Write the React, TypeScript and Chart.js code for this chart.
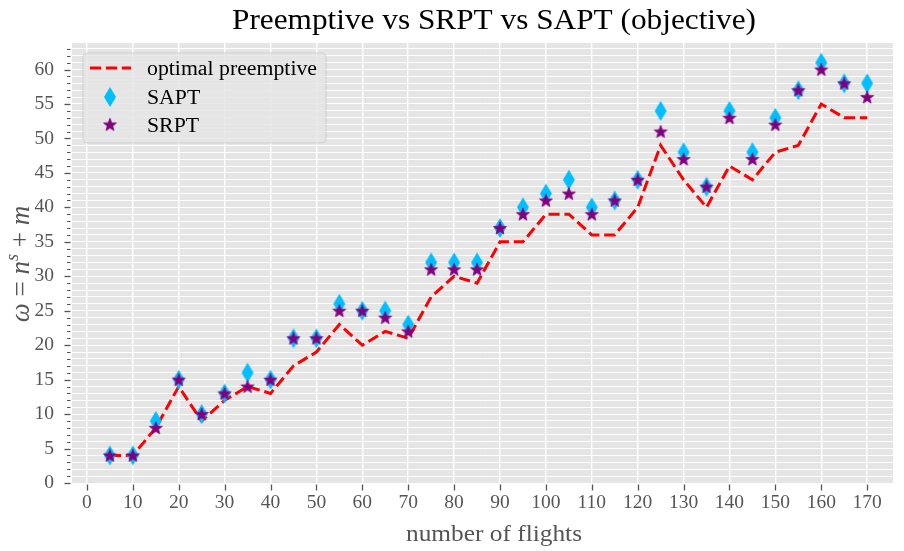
import React, { useEffect, useRef } from "react";
import { Chart, registerables } from "chart.js";

Chart.register(...registerables);

// ---- data ----
const flights = [5, 10, 15, 20, 25, 30, 35, 40, 45, 50, 55, 60, 65, 70, 75, 80, 85, 90, 95, 100, 105, 110, 115, 120, 125, 130, 135, 140, 145, 150, 155, 160, 165, 170];
const optimalPreemptive = [4, 4, 8, 14, 9, 12, 14, 13, 17, 19, 23, 20, 22, 21, 27, 30, 29, 35, 35, 39, 39, 36, 36, 40, 49, 44, 40, 46, 44, 48, 49, 55, 53, 53];
const saptValues = [4, 4, 9, 15, 10, 13, 16, 15, 21, 21, 26, 25, 25, 23, 32, 32, 32, 37, 40, 42, 44, 40, 41, 44, 54, 48, 43, 54, 48, 53, 57, 61, 58, 58];
const srptValues = [4, 4, 8, 15, 10, 13, 14, 15, 21, 21, 25, 25, 24, 22, 31, 31, 31, 37, 39, 41, 42, 39, 41, 44, 51, 47, 43, 53, 47, 52, 57, 60, 58, 56];

const xTickValues = [0, 10, 20, 30, 40, 50, 60, 70, 80, 90, 100, 110, 120, 130, 140, 150, 160, 170];
const yMajorTicks = [0, 5, 10, 15, 20, 25, 30, 35, 40, 45, 50, 55, 60];
const yMinorMax = 63;

const titleText = "Preemptive vs SRPT vs SAPT (objective)";
const xLabelText = "number of flights";
const legendLabels = ["optimal preemptive", "SAPT", "SRPT"];

const FONT = '"Liberation Serif", "Times New Roman", serif';
const RED = "#FF0000";
const BLUE = "#00BFFF";
const PURPLE = "#800080";
const TICK_GRAY = "#555555";

function makeDiamond(): HTMLCanvasElement {
  const c = document.createElement("canvas");
  c.width = 14;
  c.height = 22;
  const g = c.getContext("2d")!;
  g.beginPath();
  g.moveTo(7, 1);
  g.lineTo(13, 11);
  g.lineTo(7, 21);
  g.lineTo(1, 11);
  g.closePath();
  g.fillStyle = BLUE;
  g.fill();
  return c;
}

function makeStar(): HTMLCanvasElement {
  const c = document.createElement("canvas");
  c.width = 16;
  c.height = 16;
  const g = c.getContext("2d")!;
  const cx = 8, cy = 8.6, R = 6.8, r = R * 0.42;
  g.beginPath();
  for (let i = 0; i < 10; i++) {
    const ang = -Math.PI / 2 + (i * Math.PI) / 5;
    const rad = i % 2 === 0 ? R : r;
    const px = cx + rad * Math.cos(ang);
    const py = cy + rad * Math.sin(ang);
    if (i === 0) g.moveTo(px, py);
    else g.lineTo(px, py);
  }
  g.closePath();
  g.fillStyle = PURPLE;
  g.strokeStyle = PURPLE;
  g.lineWidth = 0.8;
  g.lineJoin = "miter";
  g.fill();
  g.stroke();
  return c;
}

function fillFitted(ctx: CanvasRenderingContext2D, text: string, x: number, y: number, font: string, targetWidth: number, align: CanvasTextAlign, color: string) {
  ctx.save();
  ctx.font = font;
  const w = ctx.measureText(text).width;
  const sx = targetWidth / w;
  ctx.translate(x, y);
  ctx.scale(sx, 1);
  ctx.textAlign = align;
  ctx.textBaseline = "alphabetic";
  ctx.fillStyle = color;
  ctx.fillText(text, 0, 0);
  ctx.restore();
}

export default function App() {
  const ref = useRef<HTMLCanvasElement | null>(null);

  useEffect(() => {
    const canvas = ref.current;
    if (!canvas) return;
    const diamond = makeDiamond();
    const star = makeStar();

    const decor = {
      id: "decor",
      beforeDraw(chart: any) {
        const { ctx, chartArea: a } = chart;
        ctx.save();
        ctx.fillStyle = "#E5E5E5";
        ctx.fillRect(a.left, a.top, a.right - a.left, a.bottom - a.top);
        ctx.restore();
      },
      afterDraw(chart: any) {
        const { ctx, chartArea: a } = chart;
        const xs = chart.scales.x;
        const ys = chart.scales.y;
        ctx.save();
        // y tick marks
        ctx.strokeStyle = TICK_GRAY;
        for (let v = 0; v <= yMinorMax; v++) {
          const py = Math.round(ys.getPixelForValue(v)) + 0.5;
          const major = yMajorTicks.includes(v);
          ctx.lineWidth = major ? 1.3 : 1;
          ctx.beginPath();
          ctx.moveTo(a.left - 1.5, py);
          ctx.lineTo(a.left - 1.5 - (major ? 6 : 3.5), py);
          ctx.stroke();
        }
        // x tick marks
        for (const v of xTickValues) {
          const px = Math.round(xs.getPixelForValue(v)) + 0.5;
          ctx.lineWidth = 1.3;
          ctx.beginPath();
          ctx.moveTo(px, a.bottom + 1.5);
          ctx.lineTo(px, a.bottom + 7.5);
          ctx.stroke();
        }
        // title
        fillFitted(ctx, titleText, 494, 29, `30px ${FONT}`, 524, "center", "#000000");
        // x label
        fillFitted(ctx, xLabelText, 494, 541, `24px ${FONT}`, 176, "center", TICK_GRAY);
        // y label (rotated): ω = n^s + m
        ctx.save();
        ctx.translate(29, 264);
        ctx.rotate(-Math.PI / 2);
        ctx.fillStyle = TICK_GRAY;
        ctx.textBaseline = "alphabetic";
        ctx.textAlign = "left";
        const it = `italic 27px ${FONT}`;
        const rm = `27px ${FONT}`;
        const sup = `italic 18px ${FONT}`;
        const parts: [string, string, number][] = [
          ["ω", it, 0],
          [" = ", rm, 0],
          ["n", it, 0],
          ["s", sup, -11],
          [" + ", rm, 0],
          ["m", it, 0],
        ];
        let total = 0;
        for (const [t, f] of parts) {
          ctx.font = f;
          total += ctx.measureText(t).width;
        }
        let cx = -total / 2;
        for (const [t, f, dy] of parts) {
          ctx.font = f;
          ctx.fillText(t, cx, dy);
          cx += ctx.measureText(t).width;
        }
        ctx.restore();

        // legend
        const lx = 83, ly = 53, lw = 243, lh = 90, rr = 4;
        ctx.beginPath();
        ctx.moveTo(lx + rr, ly);
        ctx.lineTo(lx + lw - rr, ly);
        ctx.arcTo(lx + lw, ly, lx + lw, ly + rr, rr);
        ctx.lineTo(lx + lw, ly + lh - rr);
        ctx.arcTo(lx + lw, ly + lh, lx + lw - rr, ly + lh, rr);
        ctx.lineTo(lx + rr, ly + lh);
        ctx.arcTo(lx, ly + lh, lx, ly + lh - rr, rr);
        ctx.lineTo(lx, ly + rr);
        ctx.arcTo(lx, ly, lx + rr, ly, rr);
        ctx.closePath();
        ctx.fillStyle = "rgba(229,229,229,0.85)";
        ctx.fill();
        ctx.strokeStyle = "rgba(204,204,204,0.8)";
        ctx.lineWidth = 1;
        ctx.stroke();

        ctx.strokeStyle = RED;
        ctx.lineWidth = 3;
        ctx.setLineDash([11.1, 4.8]);
        ctx.beginPath();
        ctx.moveTo(90, 68);
        ctx.lineTo(131, 68);
        ctx.stroke();
        ctx.setLineDash([]);
        ctx.drawImage(diamond, 110 - diamond.width / 2, 97 - diamond.height / 2);
        ctx.drawImage(star, 110 - star.width / 2, 124.5 - star.height / 2);

        ctx.font = `20px ${FONT}`;
        const w0 = ctx.measureText(legendLabels[0]).width;
        const w1 = ctx.measureText(legendLabels[1]).width;
        const w2 = ctx.measureText(legendLabels[2]).width;
        const sx = 170 / w0;
        fillFitted(ctx, legendLabels[0], 147, 75, `20px ${FONT}`, 170, "left", "#000000");
        fillFitted(ctx, legendLabels[1], 147, 104, `20px ${FONT}`, w1 * sx, "left", "#000000");
        fillFitted(ctx, legendLabels[2], 147, 131.5, `20px ${FONT}`, w2 * sx, "left", "#000000");
        ctx.restore();
      },
    };

    const chart = new Chart(canvas, {
      type: "scatter",
      data: {
        datasets: [
          {
            type: "line",
            label: legendLabels[0],
            data: flights.map((f, i) => ({ x: f, y: optimalPreemptive[i] })),
            borderColor: RED,
            borderWidth: 3,
            borderDash: [11.1, 4.8],
            pointRadius: 0,
            fill: false,
            tension: 0,
            order: 3,
          } as any,
          {
            label: legendLabels[1],
            data: flights.map((f, i) => ({ x: f, y: saptValues[i] })),
            pointStyle: diamond,
            pointRadius: 10,
            backgroundColor: BLUE,
            borderColor: BLUE,
            order: 2,
          },
          {
            label: legendLabels[2],
            data: flights.map((f, i) => ({ x: f, y: srptValues[i] })),
            pointStyle: star,
            pointRadius: 8,
            backgroundColor: PURPLE,
            borderColor: PURPLE,
            order: 1,
          },
        ],
      },
      options: {
        animation: false,
        responsive: false,
        devicePixelRatio: 1,
        layout: { padding: { top: 43, left: 0, right: 0, bottom: 0 } },
        plugins: {
          legend: { display: false },
          title: { display: false },
          tooltip: { enabled: false },
        },
        scales: {
          x: {
            type: "linear",
            min: -3.25,
            max: 175.63,
            border: { display: false },
            grid: { color: "#FFFFFF", lineWidth: 1.4, drawTicks: false },
            ticks: {
              autoSkip: false,
              maxRotation: 0,
              padding: 8.5,
              color: TICK_GRAY,
              font: { family: FONT, size: 19.5 },
              callback: (v: any) => String(v),
            },
            afterBuildTicks: (s: any) => {
              s.ticks = xTickValues.map((v) => ({ value: v }));
            },
            afterFit: (s: any) => {
              s.height = 68;
              s.paddingLeft = 0;
              s.paddingRight = 0;
            },
          },
          y: {
            type: "linear",
            min: 0,
            max: 63.85,
            border: { display: false },
            grid: { color: "#FFFFFF", lineWidth: 1, drawTicks: false },
            ticks: {
              autoSkip: false,
              padding: 18,
              color: TICK_GRAY,
              font: { family: FONT, size: 19.5 },
              callback: (v: any) => (yMajorTicks.includes(v) ? String(v) : ""),
            },
            afterBuildTicks: (s: any) => {
              const t: { value: number }[] = [];
              for (let v = 0; v <= yMinorMax; v++) t.push({ value: v });
              s.ticks = t;
            },
            afterFit: (s: any) => {
              s.width = 72;
              s.paddingTop = 0;
              s.paddingBottom = 0;
            },
          },
        },
      },
      plugins: [decor],
    });

    return () => chart.destroy();
  }, []);

  return (
    <div style={{ position: "fixed", left: 0, top: 0, width: 904, height: 551, background: "#FFFFFF" }}>
      <canvas ref={ref} width={904} height={551} style={{ display: "block" }} />
    </div>
  );
}
